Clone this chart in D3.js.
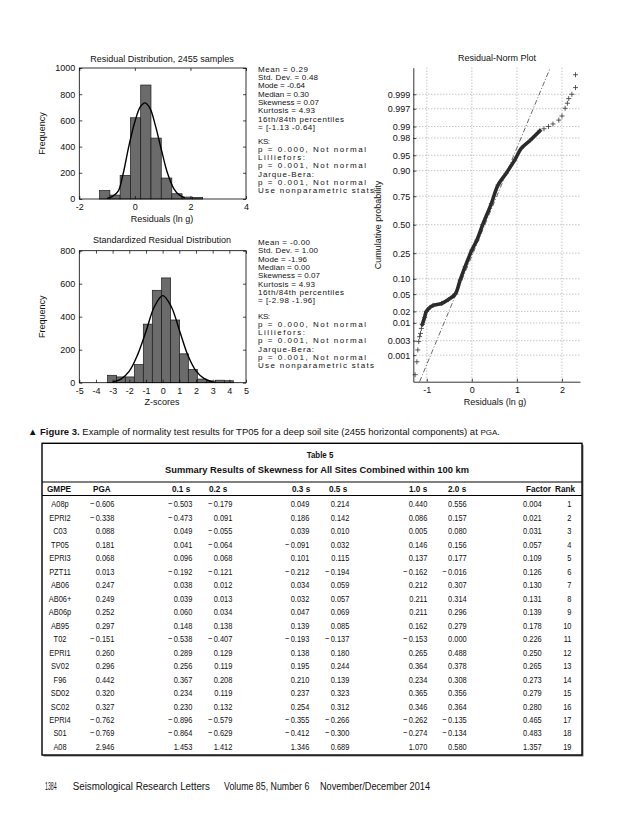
<!DOCTYPE html>
<html>
<head>
<meta charset="utf-8">
<script src="https://cdn.jsdelivr.net/npm/d3@7"></script>
<style>
  body { margin: 0; background: #fff; }
  svg { display: block; }
  .fig text { font-family: "Liberation Sans", Arial, sans-serif; font-size: 9px; fill: #111; }
  .fig .stat { font-size: 8px; }
  .tick text { font-family: "Liberation Sans", Arial, sans-serif; font-size: 9px; fill: #111; }
  .tbl text { font-family: "Liberation Sans", Arial, sans-serif; font-size: 9.3px; fill: #111; }
</style>
</head>
<body>
<div id="page"></div>
<script>
// ---- histogram 1: residuals (ln g)
const resEdges = [-1.27, -0.9, -0.53, -0.16, 0.21, 0.58, 0.95, 1.33, 1.7, 2.07, 2.44];
const resCounts = [65, 30, 180, 620, 870, 465, 160, 40, 15, 12];
const resCurveX = [-1.0, -0.8, -0.6, -0.43, -0.22, 0, 0.2, 0.37, 0.55, 0.74, 0.95, 1.17, 1.4, 1.6, 1.8];
const resCurveY = [5, 20, 60, 185, 400, 590, 705, 734, 690, 560, 380, 200, 80, 30, 8];

// ---- histogram 2: z-scores
const zEdges = [-3.3, -2.76, -2.24, -1.7, -1.16, -0.62, -0.06, 0.48, 1.02, 1.54, 2.08, 2.62, 3.16, 3.7, 4.24];
const zCounts = [45, 35, 35, 110, 355, 560, 635, 380, 175, 80, 22, 10, 15, 12];
const zCurveX = [-3, -2.5, -2, -1.5, -1, -0.5, 0, 0.5, 1, 1.5, 2, 2.5, 3];
const zCurveY = [5, 22, 70, 170, 310, 460, 528, 465, 320, 170, 72, 25, 6];

const statsTop = ["Mean = 0.29", "Std. Dev. = 0.48", "Mode = -0.64", "Median = 0.30", "Skewness = 0.07",
  "Kurtosis = 4.93", "16th/84th percentiles", "= [-1.13 -0.64]"];
const statsBottom = ["Mean = -0.00", "Std. Dev. = 1.00", "Mode = -1.96", "Median = 0.00", "Skewness = 0.07",
  "Kurtosis = 4.93", "16th/84th percentiles", "= [-2.98 -1.96]"];
const testLines = ["KS:", "p = 0.000,  Not normal", "Lilliefors:", "p = 0.001,  Not normal", "Jarque-Bera:",
  "p = 0.001,  Not normal", "Use nonparametric stats"];

// ---- residual-norm plot
const probTicks = [0.999, 0.997, 0.99, 0.98, 0.95, 0.90, 0.75, 0.50, 0.25, 0.10, 0.05, 0.02, 0.01, 0.003, 0.001];
const probLabels = ["0.999", "0.997", "0.99", "0.98", "0.95", "0.90", "0.75", "0.50", "0.25", "0.10", "0.05", "0.02", "0.01", "0.003", "0.001"];
const normTicksX = [-1, 0, 1, 2];
const denseResid = [-1.1, -1.05, -1.01, -0.93, -0.86, -0.67, -0.52, -0.37, -0.26, -0.15, 0, 0.11, 0.24, 0.43, 0.58, 0.76, 0.95, 1.1, 1.29, 1.51];
const denseProb = [0.009, 0.014, 0.02, 0.025, 0.028, 0.031, 0.038, 0.05, 0.095, 0.16, 0.274, 0.357, 0.5, 0.69, 0.826, 0.888, 0.937, 0.965, 0.977, 0.987];
const tailResid = [-1.26, -1.22, -1.2, -1.18, -1.16, -1.14, -1.12, 1.6, 1.7, 1.8, 1.93, 2.0, 2.07, 2.12, 2.15, 2.22, 2.3, 2.3];
const tailProb = [0.00019, 0.00058, 0.0015, 0.0028, 0.004, 0.005, 0.007, 0.9885, 0.990, 0.9915, 0.9934, 0.995, 0.9971, 0.998, 0.9986, 0.999, 0.99942, 0.99981];
const refResid = [-1.16, 1.74];
const refProb = [0.0001, 0.9999];

// ---- table 5
const headers = ["GMPE", "PGA", "0.1 s", "0.2 s", "0.3 s", "0.5 s", "1.0 s", "2.0 s", "Factor", "Rank"];
const gmpe = ["A08p", "EPRI2", "C03", "TP05", "EPRI3", "PZT11", "AB06", "AB06+", "AB06p", "AB95", "T02",
  "EPRI1", "SV02", "F96", "SD02", "SC02", "EPRI4", "S01", "A08"];
const pga = [-0.606, -0.338, 0.088, 0.181, 0.068, 0.013, 0.247, 0.249, 0.252, 0.297, -0.151, 0.260, 0.296, 0.442, 0.320, 0.327, -0.762, -0.769, 2.946];
const s01 = [-0.503, -0.473, 0.049, 0.041, 0.096, -0.192, 0.038, 0.039, 0.060, 0.148, -0.538, 0.289, 0.256, 0.367, 0.234, 0.230, -0.896, -0.864, 1.453];
const s02 = [-0.179, 0.091, -0.055, -0.064, 0.068, -0.121, 0.012, 0.013, 0.034, 0.138, -0.407, 0.129, 0.119, 0.208, 0.119, 0.132, -0.579, -0.629, 1.412];
const s03 = [0.049, 0.186, 0.039, -0.091, 0.101, -0.212, 0.034, 0.032, 0.047, 0.139, -0.193, 0.138, 0.195, 0.210, 0.237, 0.254, -0.355, -0.412, 1.346];
const s05 = [0.214, 0.142, 0.010, 0.032, 0.115, -0.194, 0.059, 0.057, 0.069, 0.085, -0.137, 0.180, 0.244, 0.139, 0.323, 0.312, -0.266, -0.300, 0.689];
const s10 = [0.440, 0.086, 0.005, 0.146, 0.137, -0.162, 0.212, 0.211, 0.211, 0.162, -0.153, 0.265, 0.364, 0.234, 0.365, 0.346, -0.262, -0.274, 1.070];
const s20 = [0.556, 0.157, 0.080, 0.156, 0.177, -0.016, 0.307, 0.314, 0.296, 0.279, 0.000, 0.488, 0.378, 0.308, 0.356, 0.364, -0.135, -0.134, 0.580];
const factor = [0.004, 0.021, 0.031, 0.057, 0.109, 0.126, 0.130, 0.131, 0.139, 0.178, 0.226, 0.250, 0.265, 0.273, 0.279, 0.280, 0.465, 0.483, 1.357];
const rank = [1, 2, 3, 4, 5, 6, 7, 8, 9, 10, 11, 12, 13, 14, 15, 16, 17, 18, 19];


// layout: rendered widths of the stats lines (they are widely tracked in the figure)
const statsWTop = [50, 60, 47, 51, 61, 57, 86, 57];
const statsWBottom = [52, 60, 49, 52, 62, 57, 86, 57];
const testsW = [12, 108, 47, 108, 56, 108, 116];

const svg = d3.select("#page").append("svg")
  .attr("width", 638)
  .attr("height", 826);

const fig = svg.append("g").attr("class", "fig");

// inverse normal cdf (Acklam), used for the probability axis
function probit(p) {
  const a = [-3.969683028665376e+01, 2.209460984245205e+02, -2.759285104469687e+02, 1.383577518672690e+02, -3.066479806614716e+01, 2.506628277459239e+00];
  const b = [-5.447609879822406e+01, 1.615858368580409e+02, -1.556989798598866e+02, 6.680131188771972e+01, -1.328068155288572e+01];
  const c = [-7.784894002430293e-03, -3.223964580411365e-01, -2.400758277161838e+00, -2.549732539343734e+00, 4.374664141464968e+00, 2.938163982698783e+00];
  const d = [7.784695709041462e-03, 3.224671290700398e-01, 2.445134137142996e+00, 3.754408661907416e+00];
  const pl = 0.02425;
  let q, r;
  if (p < pl) {
    q = Math.sqrt(-2 * Math.log(p));
    return (((((c[0]*q+c[1])*q+c[2])*q+c[3])*q+c[4])*q+c[5]) / ((((d[0]*q+d[1])*q+d[2])*q+d[3])*q+1);
  }
  if (p <= 1 - pl) {
    q = p - 0.5; r = q * q;
    return (((((a[0]*r+a[1])*r+a[2])*r+a[3])*r+a[4])*r+a[5])*q / (((((b[0]*r+b[1])*r+b[2])*r+b[3])*r+b[4])*r+1);
  }
  q = Math.sqrt(-2 * Math.log(1 - p));
  return -(((((c[0]*q+c[1])*q+c[2])*q+c[3])*q+c[4])*q+c[5]) / ((((d[0]*q+d[1])*q+d[2])*q+d[3])*q+1);
}

function cleanAxis(g) {
  g.attr("font-size", null).attr("font-family", null);
  g.selectAll(".tick line").attr("stroke", "#000").attr("stroke-width", 0.7);
}

function drawHist(cfg) {
  let x = d3.scaleLinear().domain(cfg.xDomain).range([79.3, 246]);
  let y = d3.scaleLinear().domain(cfg.yDomain).range([cfg.bottom, cfg.top]);
  let g = fig.append("g");

  g.selectAll("rect.bar")
    .data(cfg.counts)
    .join("rect")
      .attr("class", "bar")
      .attr("x", (d, i) => x(cfg.edges[i]))
      .attr("width", (d, i) => x(cfg.edges[i + 1]) - x(cfg.edges[i]))
      .attr("y", d => y(d))
      .attr("height", d => y(0) - y(d))
      .attr("fill", "#6b6b6b")
      .attr("stroke", "#1a1a1a")
      .attr("stroke-width", 0.7);

  let line = d3.line().x(d => x(d[0])).y(d => y(d[1])).curve(d3.curveCatmullRom);
  g.append("path")
    .datum(d3.zip(cfg.curveX, cfg.curveY))
    .attr("d", line)
    .attr("fill", "none")
    .attr("stroke", "#000")
    .attr("stroke-width", 1.4);

  g.append("rect")
    .attr("x", 79.3).attr("y", cfg.top)
    .attr("width", 246 - 79.3).attr("height", cfg.bottom - cfg.top)
    .attr("fill", "none").attr("stroke", "#000").attr("stroke-width", 0.8);

  let fmt = d => String(d);
  g.append("g").attr("transform", "translate(0," + cfg.bottom + ")")
    .call(d3.axisBottom(x).tickValues(cfg.xTicks).tickSize(-3).tickPadding(5).tickFormat(fmt))
    .call(cleanAxis).select(".domain").remove();
  g.append("g").attr("transform", "translate(0," + cfg.top + ")")
    .call(d3.axisTop(x).tickValues(cfg.xTicks).tickSize(-3).tickFormat(""))
    .call(cleanAxis).select(".domain").remove();
  g.append("g").attr("transform", "translate(79.3,0)")
    .call(d3.axisLeft(y).tickValues(cfg.yTicks).tickSize(-3).tickPadding(4).tickFormat(fmt))
    .call(cleanAxis).select(".domain").remove();
  g.append("g").attr("transform", "translate(246,0)")
    .call(d3.axisRight(y).tickValues(cfg.yTicks).tickSize(-3).tickFormat(""))
    .call(cleanAxis).select(".domain").remove();

  g.append("text").attr("x", 162).attr("y", cfg.titleY).attr("dy", "0.35em")
    .attr("text-anchor", "middle").text(cfg.title);
  g.append("text").attr("x", 162).attr("y", cfg.labelY).attr("dy", "0.35em")
    .attr("text-anchor", "middle").text(cfg.xLabel);
  g.append("text")
    .attr("transform", "translate(42," + ((cfg.top + cfg.bottom) / 2) + ") rotate(-90)")
    .attr("dy", "0.35em").attr("text-anchor", "middle").text("Frequency");

  // stats text to the right
  let st = fig.append("g").style("white-space", "pre");
  st.selectAll("text.s").data(cfg.stats).join("text")
    .attr("class", "s stat").attr("x", 258).attr("y", (d, i) => cfg.statsY + i * 8.33)
    .attr("dy", "0.35em")
    .attr("textLength", (d, i) => cfg.statsW[i]).attr("lengthAdjust", "spacing")
    .text(d => d);
  st.selectAll("text.t").data(testLines).join("text")
    .attr("class", "t stat").attr("x", 258).attr("y", (d, i) => cfg.testsY + i * 8.33)
    .attr("dy", "0.35em")
    .attr("textLength", (d, i) => testsW[i]).attr("lengthAdjust", "spacing")
    .text(d => d);
}

drawHist({
  edges: resEdges, counts: resCounts, curveX: resCurveX, curveY: resCurveY,
  xDomain: [-2, 4], yDomain: [0, 1000], xTicks: [-2, 0, 2, 4], yTicks: [0, 200, 400, 600, 800, 1000],
  top: 68, bottom: 199, titleY: 59, labelY: 219,
  title: "Residual Distribution, 2455 samples", xLabel: "Residuals (ln g)",
  stats: statsTop, statsW: statsWTop, statsY: 69, testsY: 140.7
});

drawHist({
  edges: zEdges, counts: zCounts, curveX: zCurveX, curveY: zCurveY,
  xDomain: [-5, 5], yDomain: [0, 800], xTicks: d3.range(-5, 6), yTicks: [0, 200, 400, 600, 800],
  top: 250.7, bottom: 382.7, titleY: 240, labelY: 401.7,
  title: "Standardized Residual Distribution", xLabel: "Z-scores",
  stats: statsBottom, statsW: statsWBottom, statsY: 242.3, testsY: 315.7
});

// ---- residual-norm plot
let nx = d3.scaleLinear().domain([-1.3, 2.4]).range([413.3, 580]);
let nz = d3.scaleLinear().domain([-3.72, 3.72]).range([381.7, 67.7]);
let np = fig.append("g");

np.selectAll("line.hg").data(probTicks).join("line")
  .attr("x1", 413.3).attr("x2", 580)
  .attr("y1", d => nz(probit(d))).attr("y2", d => nz(probit(d)))
  .attr("stroke", "#888").attr("stroke-width", 0.7).attr("stroke-dasharray", "1,2");
np.selectAll("line.vg").data(normTicksX).join("line")
  .attr("x1", d => nx(d)).attr("x2", d => nx(d))
  .attr("y1", 67.7).attr("y2", 381.7)
  .attr("stroke", "#888").attr("stroke-width", 0.7).attr("stroke-dasharray", "1,2");

np.append("g").attr("transform", "translate(413.3,0)")
  .call(d3.axisLeft(nz).tickValues(probTicks.map(probit)).tickFormat((d, i) => probLabels[i])
    .tickSize(-3).tickSizeOuter(0).tickPadding(3))
  .call(cleanAxis);
np.append("g").attr("transform", "translate(0,381.7)")
  .call(d3.axisBottom(nx).tickValues(normTicksX).tickFormat(d => String(d))
    .tickSize(-3).tickSizeOuter(0).tickPadding(5))
  .call(cleanAxis);
np.selectAll(".domain").attr("stroke", "#000").attr("stroke-width", 0.8);

// fitted reference line
np.append("line")
  .attr("x1", nx(refResid[0])).attr("y1", nz(probit(refProb[0])))
  .attr("x2", nx(refResid[1])).attr("y2", nz(probit(refProb[1])))
  .attr("stroke", "#444").attr("stroke-width", 0.8).attr("stroke-dasharray", "5,2,1,2");

// dense band of samples
let nline = d3.line().x(d => nx(d[0])).y(d => nz(probit(d[1]))).curve(d3.curveCatmullRom);
np.append("path")
  .datum(d3.zip(denseResid, denseProb))
  .attr("d", nline)
  .attr("fill", "none").attr("stroke", "#2a2a2a").attr("stroke-width", 3.6)
  .attr("stroke-linecap", "round");

let plus = "M-2.5,0H2.5M0,-2.5V2.5";
np.selectAll("path.mk").data(d3.zip(denseResid, denseProb).concat(d3.zip(tailResid, tailProb))).join("path")
  .attr("class", "mk")
  .attr("transform", d => "translate(" + nx(d[0]) + "," + nz(probit(d[1])) + ")")
  .attr("d", plus).attr("stroke", "#333").attr("stroke-width", 0.8).attr("fill", "none");

np.append("text").attr("x", 497).attr("y", 58.3).attr("dy", "0.35em")
  .attr("text-anchor", "middle").text("Residual-Norm Plot");
np.append("text").attr("x", 495).attr("y", 401.7).attr("dy", "0.35em")
  .attr("text-anchor", "middle").text("Residuals (ln g)");
np.append("text").attr("transform", "translate(378,225) rotate(-90)")
  .attr("dy", "0.35em").attr("text-anchor", "middle").text("Cumulative probability");

// ---- caption
let cap = svg.append("text")
  .attr("x", 28).attr("y", 432).attr("dy", "0.35em")
  .attr("textLength", 472).attr("lengthAdjust", "spacingAndGlyphs")
  .style("font-family", '"Liberation Sans", Arial, sans-serif')
  .style("font-size", "9.5px").style("white-space", "pre").style("fill", "#111");
cap.append("tspan").text("\u25B2 ");
cap.append("tspan").style("font-weight", "bold").text("Figure 3.");
cap.append("tspan").text(" Example of normality test results for TP05 for a deep soil site (2455 horizontal components) at ");
cap.append("tspan").style("font-size", "8px").text("PGA");
cap.append("tspan").text(".");

// ---- table
let tbl = svg.append("g").attr("class", "tbl");
const tLeft = 42, tRight = 582, tTop = 443.3, tBottom = 755;

tbl.append("rect").attr("x", tLeft + 1.5).attr("y", tTop + 1.5)
  .attr("width", tRight - tLeft).attr("height", tBottom - tTop).attr("fill", "#777");
tbl.append("rect").attr("x", tLeft).attr("y", tTop)
  .attr("width", tRight - tLeft).attr("height", tBottom - tTop)
  .attr("fill", "#fff").attr("stroke", "#000").attr("stroke-width", 1.4);

function ctext(x, y, s, anchor, bold, sx) {
  return tbl.append("text")
    .attr("transform", "translate(" + x + "," + y + ") scale(" + (sx || 0.8) + ",1)")
    .attr("text-anchor", anchor).attr("dy", "0.35em")
    .style("font-weight", bold ? "bold" : "normal")
    .text(s);
}

ctext(320, 454.3, "Table 5", "middle", true, 0.85);
tbl.append("text")
  .attr("x", 165).attr("y", 469.3).attr("dy", "0.35em")
  .attr("textLength", 304).attr("lengthAdjust", "spacingAndGlyphs")
  .style("font-weight", "bold")
  .text("Summary Results of Skewness for All Sites Combined within 100 km");

tbl.append("line").attr("x1", tLeft).attr("x2", tRight).attr("y1", 482).attr("y2", 482)
  .attr("stroke", "#000").attr("stroke-width", 1);
tbl.append("line").attr("x1", tLeft).attr("x2", tRight).attr("y1", 495.5).attr("y2", 495.5)
  .attr("stroke", "#000").attr("stroke-width", 1.2);

const headerX = [47, 93, 172, 209, 292, 329, 409, 448, 526, 555];
headers.forEach((h, i) => ctext(headerX[i], 489, h, "start", true, 0.88));

const columns = [gmpe, pga, s01, s02, s03, s05, s10, s20, factor, rank];
const colX = [60, 114.3, 192.3, 232.3, 309.3, 349.3, 427.3, 466.7, 541.7, 571.5];
let rowY = d3.scalePoint().domain(d3.range(gmpe.length)).range([504, 746.7]);
let f3 = v => d3.format(".3f")(v).replace("\u2212", "\u2212\u2009");

columns.forEach((col, c) => {
  col.forEach((v, r) => {
    let s = c === 0 ? v : (c === 9 ? String(v) : f3(v));
    ctext(colX[c], rowY(r), s, c === 0 ? "middle" : "end", false);
  });
});

// ---- footer
const footerParts = ["1384", "Seismological Research Letters", "Volume 85, Number 6", "November/December 2014"];
const footerX = [45, 72.7, 224, 320];
const footerW = [11.7, 137.3, 85.3, 110];
svg.selectAll("text.foot").data(footerParts).join("text")
  .attr("class", "foot")
  .attr("x", (d, i) => footerX[i]).attr("y", 786).attr("dy", "0.35em")
  .attr("textLength", (d, i) => footerW[i]).attr("lengthAdjust", "spacingAndGlyphs")
  .style("font-family", '"Liberation Sans", Arial, sans-serif')
  .style("font-size", "10px").style("fill", "#111")
  .text(d => d);
</script>
</body>
</html>
